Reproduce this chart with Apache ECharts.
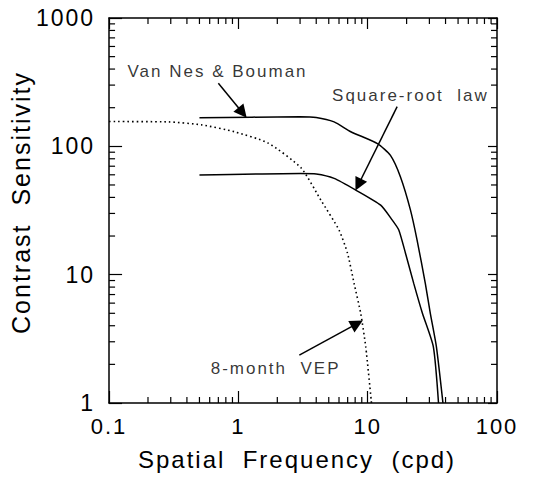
<!DOCTYPE html>
<html>
<head>
<meta charset="utf-8">
<script src="https://cdn.jsdelivr.net/npm/echarts@6/dist/echarts.min.js"></script>
<style>
  html, body { margin: 0; padding: 0; background: #fff; }
  #chart { width: 533px; height: 481px; letter-spacing: 2px; }
</style>
</head>
<body>
<div id="chart"></div>
<script>
// Contrast sensitivity vs spatial frequency, log-log
var xTickLabels = ['0.1', '1', '10', '100'];
var yTickLabels = ['1', '10', '100', '1000'];
var minorSteps = [2, 3, 4, 5, 6, 7, 8, 9];

// Van Nes & Bouman (upper solid curve)
var vanNesFreq = [0.5, 3.0, 4.0, 5.5, 7.4, 11.9, 15.0, 17.9, 21.4, 24.1, 27.9, 30.5, 34.0, 38.2];
var vanNesSens = [167, 170, 168, 155, 130, 105, 85, 58, 32, 18.6, 8.55, 5.0, 2.74, 1];

// Square-root law (lower solid curve)
var sqrtFreq = [0.5, 3.0, 4.0, 5.5, 8.1, 12.6, 15.5, 17.4, 19.6, 22.7, 26.5, 32.2, 35.3];
var sqrtSens = [59.7, 61.5, 61, 56.3, 45.6, 34.8, 26.6, 22.3, 14.7, 8.55, 5.0, 2.74, 1];

// 8-month VEP (dotted curve)
var vepFreq = [0.1, 0.29, 0.52, 0.93, 1.7, 3.05, 4.35, 6.0, 6.98, 7.85, 8.83, 9.66, 10.7];
var vepSens = [156, 155, 147, 130, 106, 68, 38, 22.3, 14.7, 8.55, 5.0, 2.74, 1];

// annotation texts [freq, sens, text]
var notes = [
    [0.69, 386, 'Van Nes & Bouman'],
    [21.4, 247, 'Square-root  law'],
    [1.94, 1.87, '8-month  VEP']
];
// arrows [from, to]
var arrows = [
    [[0.70, 310], [1.077, 183]],
    [[16.9, 204], [8.47, 50.2]],
    [[2.96, 2.36], [8.28, 4.15]]
];

function pairs(xs, ys) {
    var out = [];
    for (var i = 0; i < xs.length; i++) {
        out.push([xs[i], ys[i]]);
    }
    return out;
}

// minor tick values (2..9 in every decade)
var xMinor = [];
var yMinor = [];
[0.1, 1, 10].forEach(function (d) {
    minorSteps.forEach(function (m) { xMinor.push(+(d * m).toPrecision(3)); });
});
[1, 10, 100].forEach(function (d) {
    minorSteps.forEach(function (m) { yMinor.push(d * m); });
});

var font = 'Liberation Sans, Arial, Helvetica, sans-serif';
var black = '#000';

var myChart = echarts.init(document.getElementById('chart'), null, {renderer: 'svg'});

var option = {
    animation: false,
    backgroundColor: '#fff',
    grid: {
        left: 107,
        right: 36,
        top: 18,
        bottom: 78,
        containLabel: false
    },
    xAxis: [
        {
            type: 'log',
            logBase: 10,
            min: 0.1,
            max: 100,
            position: 'bottom',
            name: 'Spatial  Frequency  (cpd)',
            nameLocation: 'middle',
            nameGap: 44,
            nameTextStyle: {
                fontFamily: font,
                fontSize: 24,
                color: black,
                padding: [0, 12, 0, 0]
            },
            axisLine: {lineStyle: {color: black, width: 1.5}},
            axisTick: {inside: true, length: 12, lineStyle: {color: black, width: 1.2}},
            axisLabel: {
                margin: 12,
                fontFamily: font,
                fontSize: 22,
                color: black,
                formatter: function (v) {
                    return xTickLabels[Math.round(Math.log10(v)) + 1];
                }
            },
            splitLine: {show: false}
        },
        {
            type: 'log',
            logBase: 10,
            min: 0.1,
            max: 100,
            position: 'top',
            axisLine: {lineStyle: {color: black, width: 1.5}},
            axisTick: {inside: true, length: 11, lineStyle: {color: black, width: 1.2}},
            axisLabel: {show: false},
            splitLine: {show: false}
        }
    ],
    yAxis: [
        {
            type: 'log',
            logBase: 10,
            min: 1,
            max: 1000,
            position: 'left',
            name: 'Contrast  Sensitivity',
            nameLocation: 'middle',
            nameGap: 62,
            nameTextStyle: {
                fontFamily: font,
                fontSize: 25,
                color: black,
                padding: [0, 0, 0, 16]
            },
            axisLine: {lineStyle: {color: black, width: 1.5}},
            axisTick: {inside: true, length: 13, lineStyle: {color: black, width: 1.2}},
            axisLabel: {
                margin: 14,
                fontFamily: font,
                fontSize: 23,
                color: black,
                formatter: function (v) {
                    return yTickLabels[Math.round(Math.log10(v))];
                }
            },
            splitLine: {show: false}
        },
        {
            type: 'log',
            logBase: 10,
            min: 1,
            max: 1000,
            position: 'right',
            axisLine: {lineStyle: {color: black, width: 1.5}},
            axisTick: {inside: true, length: 9, lineStyle: {color: black, width: 1.2}},
            axisLabel: {show: false},
            splitLine: {show: false}
        }
    ],
    series: [
        {
            name: 'Van Nes & Bouman',
            type: 'line',
            data: pairs(vanNesFreq, vanNesSens),
            showSymbol: false,
            smooth: 0.2,
            lineStyle: {color: black, width: 1.5}
        },
        {
            name: 'Square-root law',
            type: 'line',
            data: pairs(sqrtFreq, sqrtSens),
            showSymbol: false,
            smooth: 0.2,
            lineStyle: {color: black, width: 1.5}
        },
        {
            name: '8-month VEP',
            type: 'line',
            data: pairs(vepFreq, vepSens),
            showSymbol: false,
            smooth: 0.2,
            lineStyle: {color: black, width: 1.6, type: [1.6, 3]}
        },
        {
            // minor ticks on the x axes (bottom and top)
            type: 'custom',
            silent: true,
            data: xMinor.map(function (v) { return [v, 10]; }),
            renderItem: function (params, api) {
                var cs = params.coordSys;
                var px = api.coord([api.value(0), 10])[0];
                var st = {stroke: black, lineWidth: 1.2};
                return {
                    type: 'group',
                    children: [
                        {type: 'line', shape: {x1: px, y1: cs.y + cs.height, x2: px, y2: cs.y + cs.height - 6}, style: st},
                        {type: 'line', shape: {x1: px, y1: cs.y, x2: px, y2: cs.y + 6}, style: st}
                    ]
                };
            }
        },
        {
            // minor ticks on the y axes (left and right)
            type: 'custom',
            silent: true,
            data: yMinor.map(function (v) { return [1, v]; }),
            renderItem: function (params, api) {
                var cs = params.coordSys;
                var py = api.coord([1, api.value(1)])[1];
                var st = {stroke: black, lineWidth: 1.2};
                return {
                    type: 'group',
                    children: [
                        {type: 'line', shape: {x1: cs.x, y1: py, x2: cs.x + 6, y2: py}, style: st},
                        {type: 'line', shape: {x1: cs.x + cs.width, y1: py, x2: cs.x + cs.width - 6, y2: py}, style: st}
                    ]
                };
            }
        },
        {
            // annotation texts and arrows
            type: 'scatter',
            silent: true,
            symbolSize: 0,
            data: notes,
            label: {
                show: true,
                position: 'inside',
                fontFamily: font,
                fontSize: 17,
                color: black,
                formatter: function (p) { return p.data[2]; }
            },
            markLine: {
                silent: true,
                symbol: ['none', 'triangle'],
                symbolSize: 13,
                label: {show: false},
                lineStyle: {color: black, width: 1.5, type: 'solid'},
                itemStyle: {color: black},
                data: arrows.map(function (a) {
                    return [{coord: a[0]}, {coord: a[1]}];
                })
            }
        }
    ]
};

myChart.setOption(option);
window.addEventListener('resize', function () {
    myChart.resize();
});
</script>
</body>
</html>
